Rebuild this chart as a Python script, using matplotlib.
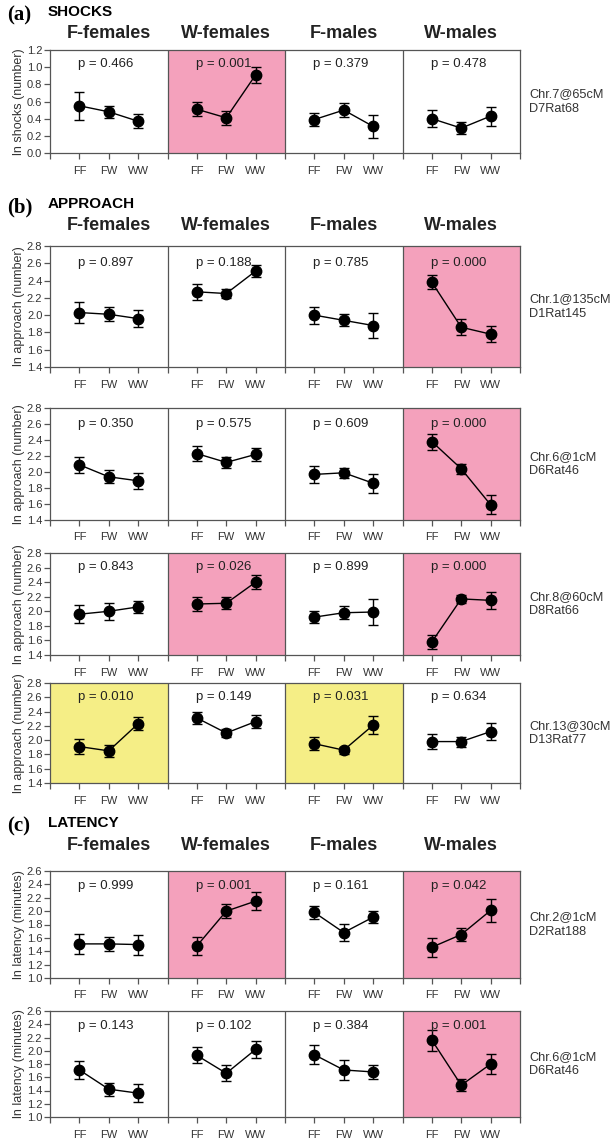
import matplotlib
matplotlib.use("Agg")
import matplotlib.pyplot as plt
import numpy as np

plt.rcParams['font.family'] = ['Liberation Sans', 'DejaVu Sans']

# ---------------- data ----------------
groups = ["F-females", "W-females", "F-males", "W-males"]
genotypes = ["FF", "FW", "WW"]

# row a: shocks, Chr.7@65cM
shocks_means = [[0.55, 0.48, 0.37], [0.51, 0.41, 0.91], [0.39, 0.50, 0.31], [0.40, 0.29, 0.43]]
shocks_errs = [[0.16, 0.07, 0.08], [0.08, 0.08, 0.09], [0.08, 0.08, 0.13], [0.10, 0.07, 0.11]]
shocks_p = ["0.466", "0.001", "0.379", "0.478"]
shocks_hl = ["", "pink", "", ""]

# row b1: approach, Chr.1@135cM
appr1_means = [[2.03, 2.01, 1.96], [2.27, 2.25, 2.51], [2.00, 1.94, 1.88], [2.38, 1.86, 1.78]]
appr1_errs = [[0.12, 0.08, 0.10], [0.09, 0.05, 0.07], [0.10, 0.07, 0.14], [0.08, 0.09, 0.09]]
appr1_p = ["0.897", "0.188", "0.785", "0.000"]
appr1_hl = ["", "", "", "pink"]

# row b2: approach, Chr.6@1cM
appr2_means = [[2.09, 1.94, 1.89], [2.23, 2.12, 2.22], [1.97, 1.99, 1.86], [2.38, 2.04, 1.59]]
appr2_errs = [[0.10, 0.08, 0.10], [0.09, 0.07, 0.08], [0.11, 0.06, 0.12], [0.10, 0.06, 0.12]]
appr2_p = ["0.350", "0.575", "0.609", "0.000"]
appr2_hl = ["", "", "", "pink"]

# row b3: approach, Chr.8@60cM
appr3_means = [[1.96, 2.00, 2.06], [2.10, 2.11, 2.40], [1.92, 1.98, 1.99], [1.58, 2.17, 2.15]]
appr3_errs = [[0.12, 0.12, 0.08], [0.09, 0.08, 0.10], [0.08, 0.09, 0.18], [0.10, 0.06, 0.12]]
appr3_p = ["0.843", "0.026", "0.899", "0.000"]
appr3_hl = ["", "pink", "", "pink"]

# row b4: approach, Chr.13@30cM
appr4_means = [[1.91, 1.85, 2.23], [2.31, 2.10, 2.26], [1.95, 1.86, 2.21], [1.98, 1.98, 2.12]]
appr4_errs = [[0.10, 0.08, 0.09], [0.09, 0.05, 0.09], [0.09, 0.05, 0.13], [0.11, 0.07, 0.12]]
appr4_p = ["0.010", "0.149", "0.031", "0.634"]
appr4_hl = ["yellow", "", "yellow", ""]

# row c1: latency, Chr.2@1cM
lat1_means = [[1.51, 1.51, 1.50], [1.48, 2.00, 2.15], [1.98, 1.68, 1.91], [1.46, 1.65, 2.01]]
lat1_errs = [[0.15, 0.10, 0.15], [0.13, 0.10, 0.13], [0.10, 0.13, 0.09], [0.14, 0.10, 0.17]]
lat1_p = ["0.999", "0.001", "0.161", "0.042"]
lat1_hl = ["", "pink", "", "pink"]

# row c2: latency, Chr.6@1cM
lat2_means = [[1.71, 1.42, 1.36], [1.93, 1.66, 2.02], [1.94, 1.71, 1.68], [2.16, 1.48, 1.80]]
lat2_errs = [[0.13, 0.10, 0.14], [0.12, 0.12, 0.13], [0.14, 0.15, 0.11], [0.16, 0.09, 0.15]]
lat2_p = ["0.143", "0.102", "0.384", "0.001"]
lat2_hl = ["", "", "", "pink"]

markers_text = ["Chr.7@65cM\nD7Rat68", "Chr.1@135cM\nD1Rat145", "Chr.6@1cM\nD6Rat46",
                "Chr.8@60cM\nD8Rat66", "Chr.13@30cM\nD13Rat77", "Chr.2@1cM\nD2Rat188",
                "Chr.6@1cM\nD6Rat46"]

shock_ticks = [0.0, 0.2, 0.4, 0.6, 0.8, 1.0, 1.2]
appr_ticks = [1.4, 1.6, 1.8, 2.0, 2.2, 2.4, 2.6, 2.8]
lat_ticks = [1.0, 1.2, 1.4, 1.6, 1.8, 2.0, 2.2, 2.4, 2.6]

# ---------------- layout ----------------
W, H = 614, 1140
fig = plt.figure(figsize=(W / 100, H / 100), dpi=100)

colors = {"pink": "#F4A1BC", "yellow": "#F5EE86", "": "white"}
EDGE = "#555555"


def add_row(top, bottom, left, right, means, errs, pvals, hl, ticks, ylabel, marker_label):
    ax = fig.add_axes([left / W, 1 - bottom / H, (right - left) / W, (bottom - top) / H])
    ymin, ymax = ticks[0], ticks[-1]
    for g in range(4):
        ax.axvspan(4 * g, 4 * g + 4, color=colors[hl[g]], lw=0, zorder=0)
        xs = np.arange(1, 4) + 4 * g
        ax.errorbar(xs, means[g], yerr=errs[g], fmt='-o', color='black', ms=7.5,
                    lw=1.0, elinewidth=1.0, capsize=3.5, capthick=1.0, zorder=3)
        ax.text(4 * g + 1.9, ymin + 0.86 * (ymax - ymin), "p = " + pvals[g],
                ha='center', va='center', fontsize=9.5, color='#222222')
    for xv in (4, 8, 12):
        ax.axvline(xv, color=EDGE, lw=0.9, zorder=1)
    ax.set_xlim(0, 16)
    ax.set_ylim(ymin, ymax)
    ax.set_yticks(ticks)
    ax.set_yticklabels([f"{t:.1f}" for t in ticks], fontsize=8, color='#333333')
    xt = [x for x in range(17)]
    ax.set_xticks(xt)
    ax.set_xticklabels(["" if x % 4 == 0 else genotypes[x % 4 - 1] for x in xt],
                       fontsize=8, color='#333333')
    ax.tick_params(axis='x', direction='out', length=4, width=0.9, color=EDGE, pad=5)
    ax.tick_params(axis='y', direction='out', length=4, width=0.9, color=EDGE, pad=1.5)
    for s in ax.spines.values():
        s.set_color(EDGE)
        s.set_linewidth(0.9)
    ax.set_ylabel(ylabel, fontsize=9, color='#333333', labelpad=1)
    fig.text(529 / W, 1 - ((top + bottom) / 2) / H, marker_label, fontsize=9.2,
             color='#333333', ha='left', va='center', linespacing=1.3)
    return ax


def section(y, letter, name):
    fig.text(7 / W, 1 - y / H, letter, fontsize=15, fontweight='bold',
             family=['Liberation Serif', 'DejaVu Serif'], va='center', ha='left')
    fig.text(48 / W, 1 - (y - 3) / H, name, fontsize=11, fontweight='bold', va='center', ha='left')


def group_titles(y, left, right):
    w = (right - left) / 4
    for g, name in enumerate(groups):
        fig.text((left + w * (g + 0.5)) / W, 1 - y / H, name, fontsize=13,
                 fontweight='bold', ha='center', va='center', color='#222222')


L, R = 50, 520

section(15, "(a)", "SHOCKS")
group_titles(34, L, R)
add_row(50, 153, L, R, shocks_means, shocks_errs, shocks_p, shocks_hl, shock_ticks,
        "ln shocks (number)", markers_text[0])

section(207, "(b)", "APPROACH")
group_titles(226, L, R)
add_row(246, 367, L, R, appr1_means, appr1_errs, appr1_p, appr1_hl, appr_ticks,
        "ln approach (number)", markers_text[1])
add_row(408, 520, L, R, appr2_means, appr2_errs, appr2_p, appr2_hl, appr_ticks,
        "ln approach (number)", markers_text[2])
add_row(553, 655, L, R, appr3_means, appr3_errs, appr3_p, appr3_hl, appr_ticks,
        "ln approach (number)", markers_text[3])
add_row(683, 783, L, R, appr4_means, appr4_errs, appr4_p, appr4_hl, appr_ticks,
        "ln approach (number)", markers_text[4])

section(826, "(c)", "LATENCY")
group_titles(845, L, R)
add_row(871, 978, L, R, lat1_means, lat1_errs, lat1_p, lat1_hl, lat_ticks,
        "ln latency (minutes)", markers_text[5])
add_row(1011, 1117, L, R, lat2_means, lat2_errs, lat2_p, lat2_hl, lat_ticks,
        "ln latency (minutes)", markers_text[6])

fig.savefig("out.png", dpi=100, facecolor='white')
